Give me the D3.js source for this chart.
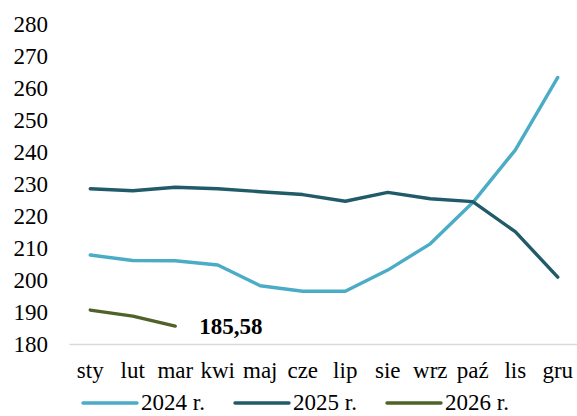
<!DOCTYPE html>
<html>
<head>
<meta charset="utf-8">
<script src="https://cdn.jsdelivr.net/npm/d3@7"></script>
<style>
  body { margin: 0; background: #fff; }
  svg text { font-family: "Liberation Serif", "Times New Roman", serif; fill: #000; }
</style>
</head>
<body>
<svg id="chart" width="577" height="416"></svg>
<script>
// data
const months = ["sty","lut","mar","kwi","maj","cze","lip","sie","wrz","paź","lis","gru"];
const v2024 = [207.8, 206.1, 206.0, 204.7, 198.2, 196.5, 196.5, 203.1, 211.3, 224.2, 240.6, 263.3];
const v2025 = [228.5, 227.9, 229.0, 228.5, 227.6, 226.7, 224.6, 227.4, 225.4, 224.5, 215.1, 200.9];
const v2026 = [190.6, 188.7, 185.58];
const yTicks = [180,190,200,210,220,230,240,250,260,270,280];

const series = [
  { name: "2024 r.", values: v2024, color: "#4bacc6" },
  { name: "2025 r.", values: v2025, color: "#215a69" },
  { name: "2026 r.", values: v2026, color: "#4f6228" }
];

const svg = d3.select("#chart");
const m = { left: 69, right: -2 };
const W = 577;

const x = d3.scaleBand().domain(months).range([m.left, W - m.right]);
const y = d3.scaleLinear().domain([180, 280]).range([344, 24]);

// y labels (no axis line)
svg.append("g")
  .attr("transform", `translate(${m.left},0)`)
  .call(d3.axisLeft(y).tickValues(yTicks).tickSize(0).tickPadding(21))
  .call(g => g.select(".domain").remove())
  .selectAll("text").style("font-size", "23px").attr("font-family", null);

// x axis
svg.append("g")
  .attr("transform", `translate(0,${y(180)})`)
  .call(d3.axisBottom(x).tickSize(0).tickPadding(18))
  .call(g => g.select(".domain").attr("stroke", "#d9d9d9").attr("stroke-width", 1.3))
  .selectAll("text").style("font-size", "23px").attr("font-family", null);

const line = d3.line()
  .x((d, i) => x(months[i]) + x.bandwidth() / 2)
  .y(d => y(d));

svg.selectAll(".series").data(series).enter().append("path")
  .attr("class", "series")
  .attr("d", d => line(d.values))
  .attr("fill", "none")
  .attr("stroke", d => d.color)
  .attr("stroke-width", 3.4)
  .attr("stroke-linecap", "round")
  .attr("stroke-linejoin", "round");

// data label for last 2026 point
const last = v2026.length - 1;
svg.append("text")
  .attr("x", x(months[last]) + x.bandwidth() / 2 + 24)
  .attr("y", y(v2026[last]) + 8)
  .style("font-size", "23px")
  .style("font-weight", "bold")
  .text(d3.format(".2f")(v2026[last]).replace(".", ","));

// legend
const legX = [83, 235, 387];
const leg = svg.selectAll(".leg").data(series).enter().append("g")
  .attr("class", "leg")
  .attr("transform", (d, i) => `translate(${legX[i]},403)`);
leg.append("line")
  .attr("x1", 0).attr("x2", 54).attr("y1", 0).attr("y2", 0)
  .attr("stroke", d => d.color).attr("stroke-width", 3.4)
  .attr("stroke-linecap", "round");
leg.append("text")
  .attr("x", 58).attr("y", 7)
  .style("font-size", "23px")
  .text(d => d.name);
</script>
</body>
</html>
